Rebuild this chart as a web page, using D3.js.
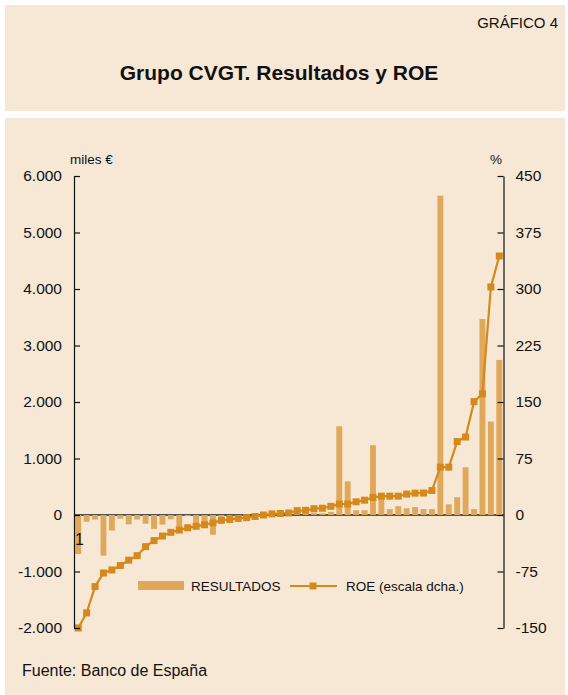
<!DOCTYPE html>
<html>
<head>
<meta charset="utf-8">
<script src="https://cdn.jsdelivr.net/npm/d3@7"></script>
<style>
  body { margin: 0; background: #fff; }
  svg { display: block; font-family: "Liberation Sans", Arial, sans-serif; }
</style>
</head>
<body>
<svg id="chart" width="568" height="695"></svg>
<script>
// Companies sorted by ROE (one entry per company)
const resultados = [
  -690, -120, -80, -720, -275, -65, -165, -80, -155, -245,
  -170, -75, -260, -20, -220, -190, -350, -30, -15, -25,
  -10, -20, -10, -5, 10, 5, 15, 25, 40, 30,
  55, 1570, 595, 85, 85, 1235, 310, 105, 155, 120,
  140, 105, 105, 5650, 190, 315, 845, 105, 3470, 1655,
  2745
];
const roe = [
  -150, -130, -95, -77, -73, -67, -60, -54, -42, -34,
  -28, -23, -20, -17, -15, -13, -10.5, -7, -6, -4.5,
  -3.5, -2, 0, 1.5, 2, 2.7, 5.8, 6.2, 8.4, 9,
  11.5, 14.6, 14.6, 17.5, 19.7, 23.2, 25, 25, 25, 27.7,
  29, 29.2, 32.5, 63.5, 63.5, 97.5, 103.5, 150.5, 160.8, 302.7,
  343.8
];
const leftTicks = [-2000, -1000, 0, 1000, 2000, 3000, 4000, 5000, 6000];
const rightTicks = [-150, -75, 0, 75, 150, 225, 300, 375, 450];
const legendLabels = ['RESULTADOS', 'ROE (escala dcha.)'];

const BG = '#f7e8d5';
const BAR = '#e0a85a';
const LINE = '#d4891a';
const FONT = '"Liberation Sans", Arial, sans-serif';

const svg = d3.select('#chart');

// panels
svg.append('rect').attr('x', 5).attr('y', 5).attr('width', 560).attr('height', 106).attr('fill', BG);
svg.append('rect').attr('x', 5).attr('y', 118).attr('width', 560).attr('height', 577).attr('fill', BG);

svg.append('text').attr('x', 558).attr('y', 28).attr('text-anchor', 'end')
  .attr('font-size', '15px').attr('fill', '#111').text('GRÁFICO 4');
svg.append('text').attr('x', 279).attr('y', 80).attr('text-anchor', 'middle')
  .attr('font-size', '21px').attr('font-weight', 'bold').attr('fill', '#111')
  .text('Grupo CVGT. Resultados y ROE');

// scales
const plot = { left: 74, right: 503.5, top: 176, bottom: 628 };
const x = d3.scaleBand()
  .domain(d3.range(resultados.length))
  .range([plot.left, plot.right])
  .paddingInner(0.3)
  .paddingOuter(0.15);
const yL = d3.scaleLinear().domain([-2000, 6000]).range([plot.bottom, plot.top]);
const yR = d3.scaleLinear().domain([-150, 450]).range([plot.bottom, plot.top]);

const locale = d3.formatLocale({ decimal: ',', thousands: '.', grouping: [3], currency: ['', '€'], minus: '-' });
const fmt = locale.format(',d');

// zero line (under the bars)
svg.append('line')
  .attr('x1', plot.left).attr('x2', plot.right)
  .attr('y1', yL(0)).attr('y2', yL(0))
  .attr('stroke', '#222').attr('stroke-width', 1.4);

// bars
svg.append('g').selectAll('rect')
  .data(resultados)
  .join('rect')
  .attr('x', (d, i) => x(i))
  .attr('width', x.bandwidth())
  .attr('y', d => yL(Math.max(0, d)))
  .attr('height', d => Math.abs(yL(d) - yL(0)))
  .attr('fill', BAR);

// ROE line
const line = d3.line()
  .x((d, i) => x(i) + x.bandwidth() / 2)
  .y(d => yR(d));
svg.append('path').datum(roe)
  .attr('d', line)
  .attr('fill', 'none')
  .attr('stroke', LINE)
  .attr('stroke-width', 2.2);
svg.append('g').selectAll('rect')
  .data(roe)
  .join('rect')
  .attr('x', (d, i) => x(i) + x.bandwidth() / 2 - 3.5)
  .attr('y', d => yR(d) - 3.5)
  .attr('width', 7).attr('height', 7)
  .attr('fill', LINE);

// axes
const axL = svg.append('g').attr('transform', `translate(${plot.left},0)`)
  .call(d3.axisLeft(yL).tickValues(leftTicks).tickFormat(fmt).tickSizeInner(-6).tickSizeOuter(0).tickPadding(12));
const axR = svg.append('g').attr('transform', `translate(${plot.right},0)`)
  .call(d3.axisRight(yR).tickValues(rightTicks).tickFormat(d3.format('d')).tickSizeInner(-6).tickSizeOuter(0).tickPadding(12));
[axL, axR].forEach(ax => {
  ax.selectAll('path, line').attr('stroke', '#111').attr('stroke-width', 1.2);
  ax.selectAll('text').attr('font-family', FONT).attr('font-size', '15.5px').attr('fill', '#111');
});
// minus sign as plain hyphen on the right axis
axR.selectAll('text').text(d => String(d));

svg.append('text').attr('x', 70).attr('y', 164)
  .attr('font-size', '13.5px').attr('fill', '#111').text('miles €');
svg.append('text').attr('x', 502).attr('y', 164).attr('text-anchor', 'end')
  .attr('font-size', '13.5px').attr('fill', '#111').text('%');

// stray label near the first bar
svg.append('text').attr('x', 75).attr('y', 545)
  .attr('font-size', '16px').attr('fill', '#111').text('1');

// legend
const lg = svg.append('g');
lg.append('rect').attr('x', 138).attr('y', 581).attr('width', 46).attr('height', 9).attr('fill', BAR);
lg.append('text').attr('x', 191).attr('y', 591).attr('font-size', '13.5px').attr('fill', '#111').text(legendLabels[0]);
lg.append('line').attr('x1', 290).attr('x2', 337).attr('y1', 586).attr('y2', 586)
  .attr('stroke', LINE).attr('stroke-width', 2.2);
lg.append('rect').attr('x', 309.5).attr('y', 582.5).attr('width', 7).attr('height', 7).attr('fill', LINE);
lg.append('text').attr('x', 346).attr('y', 591).attr('font-size', '13.5px').attr('fill', '#111').text(legendLabels[1]);

// source
svg.append('text').attr('x', 22).attr('y', 676)
  .attr('font-size', '16px').attr('fill', '#111').text('Fuente: Banco de España');
</script>
</body>
</html>
